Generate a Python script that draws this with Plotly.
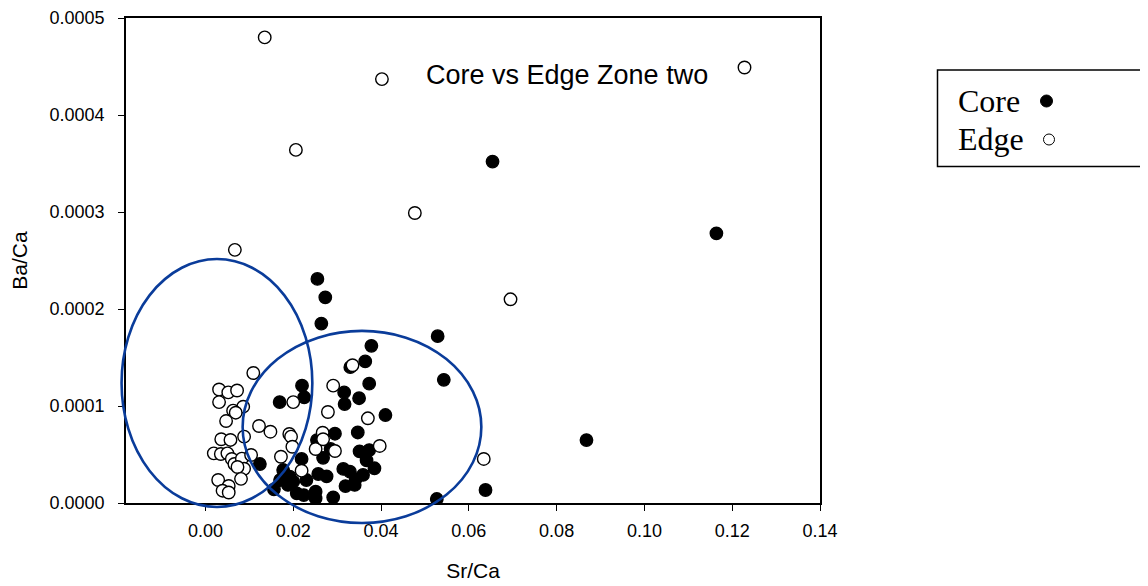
import plotly.graph_objects as go

# ---- data ----
core_sr = [0.0654, 0.1164, 0.0868, 0.0529, 0.0543, 0.0638, 0.0527, 0.0255, 0.0273, 0.0264,
           0.0378, 0.0364, 0.0330, 0.0373, 0.0220, 0.0225, 0.0169, 0.0316, 0.0317, 0.0350,
           0.0410, 0.0295, 0.0347, 0.0254, 0.0285, 0.0351, 0.0373, 0.0268, 0.0219, 0.0124,
           0.0367, 0.0385, 0.0314, 0.0329, 0.0359, 0.0342, 0.0319, 0.0257, 0.0276, 0.0230,
           0.0177, 0.0192, 0.0170, 0.0188, 0.0200, 0.0156, 0.0208, 0.0224, 0.0251, 0.0251,
           0.0291, 0.0340]
core_ba = [0.000352, 0.000278, 0.0000649, 0.000172, 0.000127, 0.0000134, 0.0000041, 0.000231, 0.000212, 0.000185,
           0.000162, 0.000146, 0.000140, 0.000123, 0.000121, 0.000109, 0.000104, 0.000114, 0.000102, 0.000108,
           0.0000907, 0.0000714, 0.0000727, 0.0000649, 0.0000557, 0.0000533, 0.0000546, 0.0000466, 0.0000454, 0.0000402,
           0.0000440, 0.0000358, 0.0000351, 0.0000323, 0.0000289, 0.0000247, 0.0000175, 0.0000299, 0.0000275, 0.0000237,
           0.0000340, 0.0000271, 0.0000237, 0.0000186, 0.0000220, 0.0000141, 0.0000100, 0.0000082, 0.0000116, 0.0000048,
           0.0000059, 0.0000186]

edge_sr = [0.0135, 0.0402, 0.1228, 0.0206, 0.0477, 0.0067, 0.0695, 0.0634, 0.0397, 0.0335,
           0.0291, 0.0200, 0.0370, 0.0279, 0.0122, 0.0148, 0.0267, 0.0191, 0.0195, 0.0198,
           0.0251, 0.0295, 0.0172, 0.0219, 0.0109, 0.0031, 0.0052, 0.0072, 0.0031, 0.0086,
           0.0063, 0.0069, 0.0047, 0.0088, 0.0036, 0.0057, 0.0019, 0.0035, 0.0050, 0.0060,
           0.0066, 0.0083, 0.0104, 0.0088, 0.0073, 0.0081, 0.0029, 0.0053, 0.0039, 0.0053,
           0.0268]
edge_ba = [0.000480, 0.000437, 0.000449, 0.000364, 0.000299, 0.000261, 0.000210, 0.0000454, 0.0000588, 0.000142,
           0.000121, 0.000104, 0.0000873, 0.0000938, 0.0000794, 0.0000735, 0.0000725, 0.0000711, 0.0000684, 0.0000580,
           0.0000557, 0.0000536, 0.0000477, 0.0000333, 0.000134, 0.000117, 0.000114, 0.000116, 0.000104, 0.0000993,
           0.0000952, 0.0000931, 0.0000845, 0.0000684, 0.0000657, 0.0000650, 0.0000512, 0.0000505, 0.0000512, 0.0000454,
           0.0000402, 0.0000457, 0.0000495, 0.0000353, 0.0000371, 0.0000249, 0.0000237, 0.0000175, 0.0000127, 0.0000108,
           0.0000657]

x_ticks = [0.00, 0.02, 0.04, 0.06, 0.08, 0.10, 0.12, 0.14]
y_ticks = [0.0000, 0.0001, 0.0002, 0.0003, 0.0004, 0.0005]

# ---- layout constants ----
OFF = 8                      # page body margin of the browser
W, H = 1148 - OFF, 586 - OFF
PL, PR, PT, PB = 126, 820, 18, 503   # plot box in screen pixels
ML, MR, MT, MB = PL - OFF, W - (PR - OFF), PT - OFF, H - (PB - OFF)
XR = [-0.0181, 0.14]
YR = [0.0, 0.0005]
BLUE = "#0a3c9a"

# ellipses (center x, center y, radius x, radius y) in data units
ellipses = [(0.00262, 0.0001237, 0.02173, 0.0001278),
            (0.03566, 0.0000784, 0.02719, 0.0000990)]


def dx2p(v):
    return (v - XR[0]) / (XR[1] - XR[0])


def dy2p(v):
    return (v - YR[0]) / (YR[1] - YR[0])


def px2p(px):
    return (px - PL) / (PR - PL)


def py2p(py):
    return (PB - py) / (PB - PT)


fig = go.Figure()
fig.add_trace(go.Scatter(x=core_sr, y=core_ba, mode="markers", name="Core",
                         marker=dict(size=12.5, color="black", line=dict(color="black", width=1.3))))
fig.add_trace(go.Scatter(x=edge_sr, y=edge_ba, mode="markers", name="Edge",
                         marker=dict(size=12.5, color="white", line=dict(color="black", width=1.4))))

shapes = []
for cx, cy, rx, ry in ellipses:
    shapes.append(dict(type="circle", xref="paper", yref="paper",
                       x0=dx2p(cx - rx), x1=dx2p(cx + rx), y0=dy2p(cy - ry), y1=dy2p(cy + ry),
                       line=dict(color=BLUE, width=2.6), layer="above"))

# legend box (open on the right: it runs past the picture edge)
bx0, bx1, by0, by1 = px2p(937.5), px2p(1200), py2p(166.5), py2p(70)
shapes.append(dict(type="path", xref="paper", yref="paper",
                   path=f"M {bx1},{by1} L {bx0},{by1} L {bx0},{by0} L {bx1},{by0}",
                   line=dict(color="black", width=1.5), layer="above"))
# legend symbols
shapes.append(dict(type="circle", xref="paper", yref="paper",
                   x0=px2p(1040.5), x1=px2p(1052.5), y0=py2p(107), y1=py2p(95),
                   line=dict(color="black", width=1), fillcolor="black", layer="above"))
shapes.append(dict(type="circle", xref="paper", yref="paper",
                   x0=px2p(1043.5), x1=px2p(1054.5), y0=py2p(145), y1=py2p(134),
                   line=dict(color="black", width=1), fillcolor="white", layer="above"))

annotations = [
    dict(text="Core vs Edge Zone two", xref="paper", yref="paper", x=px2p(424), y=py2p(75),
         xanchor="left", yanchor="middle", showarrow=False,
         font=dict(family="Liberation Sans, Arial", size=27, color="black")),
    dict(text="Core", xref="paper", yref="paper", x=px2p(956), y=py2p(101),
         xanchor="left", yanchor="middle", showarrow=False,
         font=dict(family="Liberation Serif, Times New Roman", size=32, color="black")),
    dict(text="Edge", xref="paper", yref="paper", x=px2p(956), y=py2p(139),
         xanchor="left", yanchor="middle", showarrow=False,
         font=dict(family="Liberation Serif, Times New Roman", size=32, color="black")),
]

axis_font = dict(family="Liberation Sans, Arial", size=18, color="black")
fig.update_layout(
    width=W, height=H,
    margin=dict(l=ML, r=MR, t=MT, b=MB, pad=0, autoexpand=False),
    paper_bgcolor="white", plot_bgcolor="white",
    showlegend=False,
    shapes=shapes, annotations=annotations,
    xaxis=dict(range=XR, tickvals=x_ticks, tickformat=".2f", showgrid=False, zeroline=False,
               automargin=False,
               showline=True, linecolor="black", linewidth=1.5, mirror=True,
               ticks="outside", ticklen=6, tickwidth=1.2, tickcolor="black",
               tickfont=axis_font, ticklabelstandoff=5,
               title=dict(text="Sr/Ca", font=dict(family="Liberation Sans, Arial", size=21, color="black"), standoff=23)),
    yaxis=dict(range=YR, tickvals=y_ticks, tickformat=".4f", showgrid=False, zeroline=False,
               automargin=False,
               showline=True, linecolor="black", linewidth=1.5, mirror=True,
               ticks="outside", ticklen=6, tickwidth=1.2, tickcolor="black",
               tickfont=axis_font, ticklabelstandoff=10,
               title=dict(text="Ba/Ca", font=dict(family="Liberation Sans, Arial", size=21, color="black"), standoff=20)),
)

fig.write_html("out.html")
